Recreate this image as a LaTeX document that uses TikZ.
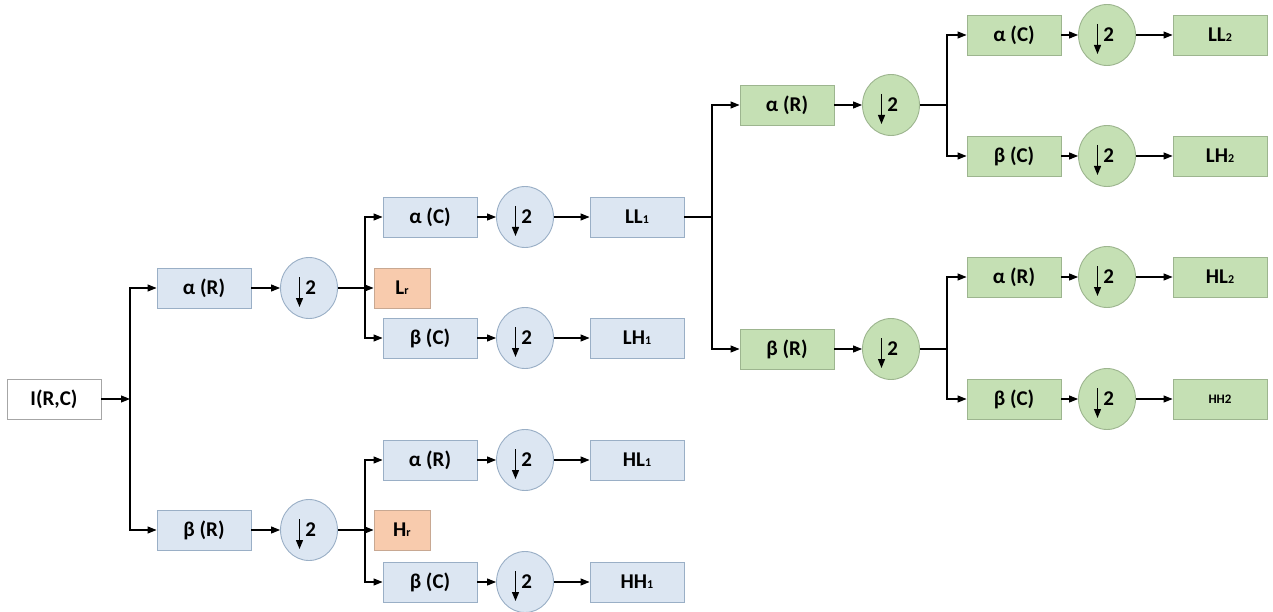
\documentclass[tikz,border=0pt]{standalone}
\usepackage{fontspec}
\setmainfont{Carlito}
\usetikzlibrary{arrows.meta,shapes.geometric}
\definecolor{bfill}{HTML}{DCE6F2}
\definecolor{bdraw}{HTML}{9AAFC6}
\definecolor{gfill}{HTML}{C5E0B4}
\definecolor{gdraw}{HTML}{9DB58F}
\definecolor{ofill}{HTML}{F8CBAD}
\definecolor{odraw}{HTML}{C8A892}
\definecolor{wdraw}{HTML}{A6A6A6}
\newcommand{\sub}[1]{{\fontsize{12}{12}\selectfont #1}}
\tikzset{
  txt/.style={font=\fontsize{21}{21}\selectfont\bfseries, text=black},
  box/.style={txt, rectangle, draw=bdraw, fill=bfill, line width=0.9pt, minimum width=94pt, minimum height=40pt, inner sep=0pt},
  gbox/.style={box, draw=gdraw, fill=gfill},
  obox/.style={box, draw=odraw, fill=ofill, minimum width=56pt},
  wbox/.style={box, draw=wdraw, fill=white},
  dsamp/.style={txt, ellipse, draw=bdraw, fill=bfill, line width=0.9pt, minimum width=57pt, minimum height=61pt, inner sep=0pt,
    path picture={\draw[black, line width=1.2pt,-{Triangle[length=9pt,width=7pt]}] ([xshift=-9.5pt,yshift=11pt]path picture bounding box.center) -- ++(0,-30pt);}},
  gdsamp/.style={dsamp, draw=gdraw, fill=gfill},
  line/.style={line width=1.1pt, draw=black},
  arr/.style={line, -{Triangle[length=9pt,width=7pt]}}
}
\begin{document}
\begin{tikzpicture}[x=1pt,y=-1pt]
\useasboundingbox (0,0) rectangle (1273,612);
% stage 0
\node[wbox] (I) at (54,399) {I(R,C)};
\coordinate (j1) at (130,399);
% stage 1 (blue)
\node[box] (aR1) at (204,288) {α (R)};
\node[dsamp] (c1) at (309,288) {\,2};
\node[obox] (Lr) at (402,288) {L\sub{r}};
\coordinate (j2) at (365,288);
\node[box] (aC1) at (430,217) {α (C)};
\node[dsamp] (c2) at (525,217) {\,2};
\node[box] (LL1) at (637,217) {LL\sub{1}};
\node[box] (bC1) at (430,338) {β (C)};
\node[dsamp] (c3) at (525,338) {\,2};
\node[box] (LH1) at (637,338) {LH\sub{1}};

\node[box] (bR1) at (204,530) {β (R)};
\node[dsamp] (c4) at (309,530) {\,2};
\node[obox] (Hr) at (402,530) {H\sub{r}};
\coordinate (j6) at (365,530);
\node[box] (aR1b) at (430,460) {α (R)};
\node[dsamp] (c5) at (525,460) {\,2};
\node[box] (HL1) at (637,460) {HL\sub{1}};
\node[box] (bC1b) at (430,582) {β (C)};
\node[dsamp] (c6) at (525,582) {\,2};
\node[box] (HH1) at (637,582) {HH\sub{1}};

% stage 2 (green)
\coordinate (j3) at (712,217);
\node[gbox] (aR2) at (787,105) {α (R)};
\node[gdsamp] (g1) at (891,105) {\,2};
\coordinate (j4) at (947,105);
\node[gbox] (aC2) at (1014,35) {α (C)};
\node[gdsamp] (g2) at (1107,35) {\,2};
\node[gbox] (LL2) at (1220,35) {LL\sub{2}};
\node[gbox] (bC2) at (1014,156) {β (C)};
\node[gdsamp] (g3) at (1107,156) {\,2};
\node[gbox] (LH2) at (1220,156) {LH\sub{2}};

\node[gbox] (bR2) at (787,349) {β (R)};
\node[gdsamp] (g4) at (891,349) {\,2};
\coordinate (j5) at (947,349);
\node[gbox] (aR3) at (1014,277) {α (R)};
\node[gdsamp] (g5) at (1107,277) {\,2};
\node[gbox] (HL2) at (1220,277) {HL\sub{2}};
\node[gbox] (bC3) at (1014,399) {β (C)};
\node[gdsamp] (g6) at (1107,399) {\,2};
\node[gbox, font=\fontsize{13}{13}\selectfont\bfseries] (HH2) at (1220,399) {HH2};

% connectors
\draw[arr] (I) -- (j1);
\draw[arr] (j1) |- (aR1);
\draw[arr] (j1) |- (bR1);
\draw[arr] (aR1) -- (c1);
\draw[arr] (c1) -- (Lr);
\draw[arr] (j2) |- (aC1);
\draw[arr] (j2) |- (bC1);
\draw[arr] (aC1) -- (c2);
\draw[arr] (c2) -- (LL1);
\draw[arr] (bC1) -- (c3);
\draw[arr] (c3) -- (LH1);
\draw[arr] (bR1) -- (c4);
\draw[arr] (c4) -- (Hr);
\draw[arr] (j6) |- (aR1b);
\draw[arr] (j6) |- (bC1b);
\draw[arr] (aR1b) -- (c5);
\draw[arr] (c5) -- (HL1);
\draw[arr] (bC1b) -- (c6);
\draw[arr] (c6) -- (HH1);

\draw[line] (LL1) -- (j3);
\draw[arr] (j3) |- (aR2);
\draw[arr] (j3) |- (bR2);
\draw[arr] (aR2) -- (g1);
\draw[line] (g1) -- (j4);
\draw[arr] (j4) |- (aC2);
\draw[arr] (j4) |- (bC2);
\draw[arr] (aC2) -- (g2);
\draw[arr] (g2) -- (LL2);
\draw[arr] (bC2) -- (g3);
\draw[arr] (g3) -- (LH2);
\draw[arr] (bR2) -- (g4);
\draw[line] (g4) -- (j5);
\draw[arr] (j5) |- (aR3);
\draw[arr] (j5) |- (bC3);
\draw[arr] (aR3) -- (g5);
\draw[arr] (g5) -- (HL2);
\draw[arr] (bC3) -- (g6);
\draw[arr] (g6) -- (HH2);
\end{tikzpicture}
\end{document}
